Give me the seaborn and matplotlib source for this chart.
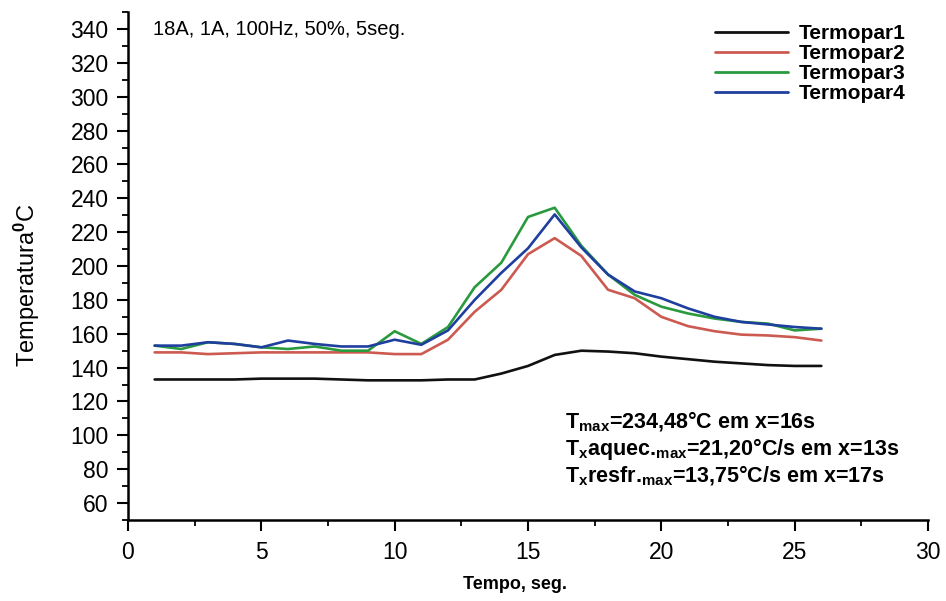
import numpy as np
import pandas as pd
import matplotlib
matplotlib.use("Agg")
import matplotlib.pyplot as plt
from matplotlib.ticker import MultipleLocator
import seaborn as sns

# Data
tempo = list(range(1, 27))
termopar1 = [133, 133, 133, 133, 133.5, 133.5, 133.5, 133, 132.5, 132.5, 132.5, 133, 133,
             136.5, 141, 147.5, 150, 149.5, 148.5, 146.5, 145, 143.5, 142.5, 141.5, 141, 141]
termopar2 = [149, 149, 148, 148.5, 149, 149, 149, 149, 149, 148, 148, 156.5, 173,
             186, 207, 216.5, 206, 186, 181, 170, 164.5, 161.5, 159.5, 159, 158, 156]
termopar3 = [153, 151, 155, 154, 152, 151, 152.5, 150, 150, 161.5, 154, 164, 187.5,
             202, 229, 234.48, 212, 195, 183, 176, 172, 169, 167, 166, 162, 163]
termopar4 = [153, 153, 155, 154, 152, 156, 154, 152.5, 152.5, 156.5, 153.5, 162, 180,
             196, 210.5, 230.5, 211, 195, 185, 181, 175, 170, 167, 165.5, 164, 163]

series_names = ["Termopar1", "Termopar2", "Termopar3", "Termopar4"]
series_colors = ["#111111", "#cc5a50", "#2a9a3e", "#1f3f9e"]

df = pd.DataFrame({
    "Tempo": tempo * 4,
    "Temperatura": termopar1 + termopar2 + termopar3 + termopar4,
    "Termopar": np.repeat(series_names, len(tempo)),
})

sns.set_style("ticks", {"axes.edgecolor": "black", "text.color": "black",
                        "axes.labelcolor": "black", "xtick.color": "black",
                        "ytick.color": "black"})
plt.rcParams["font.family"] = ["Liberation Sans", "DejaVu Sans"]
plt.rcParams["mathtext.fontset"] = "custom"
plt.rcParams["mathtext.rm"] = "Liberation Sans:bold"
plt.rcParams["mathtext.it"] = "Liberation Sans:bold"
plt.rcParams["mathtext.bf"] = "Liberation Sans:bold"
plt.rcParams["mathtext.default"] = "rm"

fig = plt.figure(figsize=(9.46, 6.01), dpi=100)
ax = fig.add_axes([0.1353, 0.1348, 0.8457, 0.845])

sns.lineplot(
    data=df, x="Tempo", y="Temperatura", hue="Termopar",
    palette=dict(zip(series_names, series_colors)),
    linewidth=1.9, ax=ax, estimator=None, sort=True,
)

ax.set_xlim(0, 30)
ax.set_ylim(50, 350)
ax.set_xticks(range(0, 31, 5))
ax.set_yticks(range(60, 341, 20))
ax.xaxis.set_minor_locator(MultipleLocator(2.5))
ax.yaxis.set_minor_locator(MultipleLocator(10))
ax.tick_params(axis="both", which="major", length=8, width=1.5, labelsize=16.5,
               direction="out", colors="black")
ax.tick_params(axis="both", which="minor", length=4, width=1.3, direction="out", colors="black")
ax.tick_params(axis="y", which="major", pad=6)
ax.tick_params(axis="x", which="major", pad=7)

sns.despine(ax=ax)
for side in ["left", "bottom"]:
    ax.spines[side].set_linewidth(1.8)
    ax.spines[side].set_color("black")

ax.set_xlabel("Tempo, seg.", fontsize=13, fontweight="bold", color="black")
ax.set_ylabel(r"Temperatura$^{0}$C", fontsize=17, color="black")
ax.xaxis.set_label_coords(0.484, -0.110)
ax.yaxis.set_label_coords(-0.108, 0.463)

leg = ax.legend(
    loc="upper right", bbox_to_anchor=(0.995, 1.013), frameon=False,
    fontsize=15, handlelength=3.5, handletextpad=0.5, labelspacing=0.05,
)
for txt in leg.get_texts():
    txt.set_fontweight("bold")
    txt.set_color("black")
for line in leg.get_lines():
    line.set_linewidth(2.0)

ax.text(0.031, 0.966, "18A, 1A, 100Hz, 50%, 5seg.", transform=ax.transAxes,
        fontsize=14.5, va="center", ha="left", color="black")

notes = [
    r"T$_{max}$=234,48°C em x=16s",
    r"T$_{x}$aquec.$_{max}$=21,20°C/s em x=13s",
    r"T$_{x}$resfr.$_{max}$=13,75°C/s em x=17s",
]
for i, note in enumerate(notes):
    ax.text(0.546, 0.193 - i * 0.053, note, transform=ax.transAxes,
            fontsize=15.5, fontweight="bold", va="center", ha="left", color="black")

fig.savefig("out.png", dpi=100)
